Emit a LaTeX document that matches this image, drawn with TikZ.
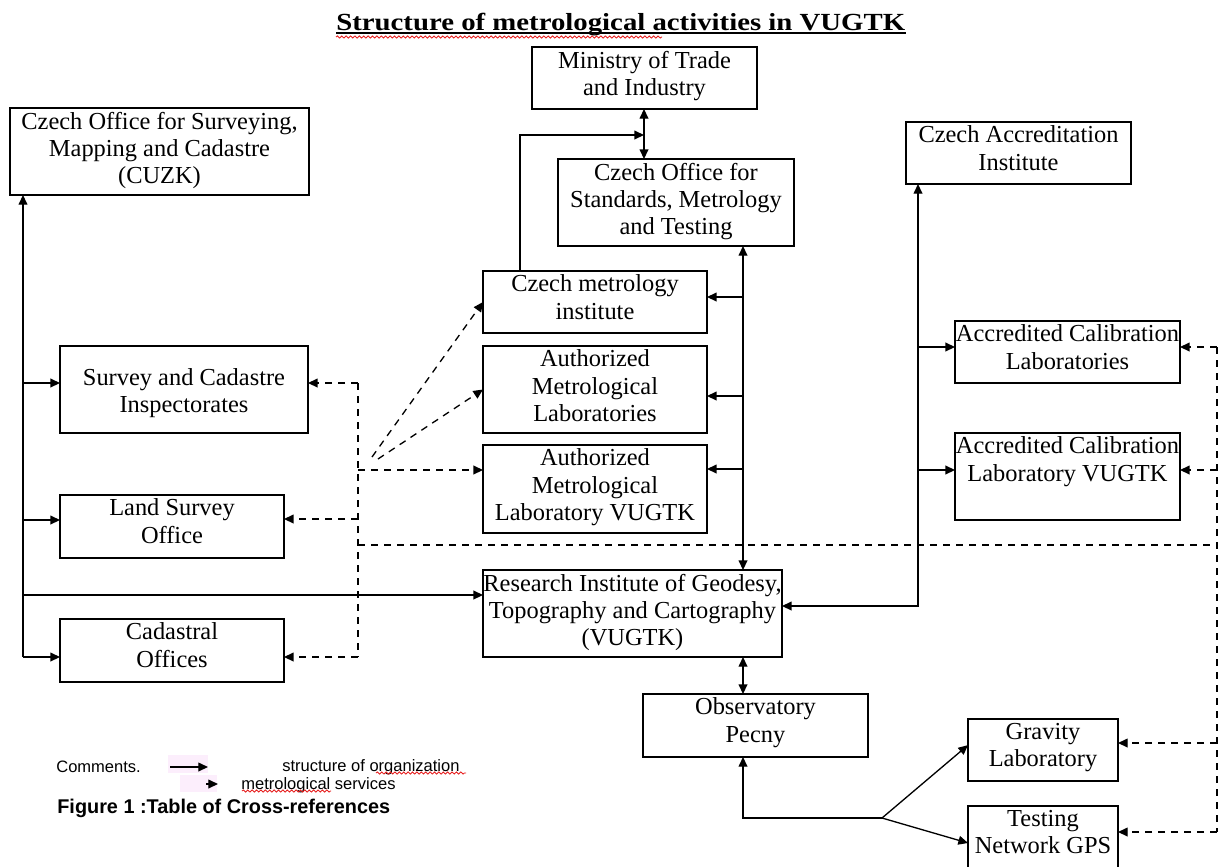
\documentclass[tikz,border=0pt]{standalone}
\usepackage{fontspec}
\usepackage{graphicx}
\setmainfont{Liberation Serif}
\setsansfont{Liberation Sans}
\usetikzlibrary{arrows.meta,decorations.pathmorphing}
\definecolor{pinkbg}{RGB}{252,238,252}
\definecolor{spellred}{RGB}{230,30,30}
\tikzset{
  box/.style={draw, line width=0.9pt, rectangle, inner sep=0pt, outer sep=0pt},
  txt/.style={font=\fontsize{13.9}{15.5}\selectfont, align=center, inner sep=2pt},
  arr/.style={line width=0.75pt, -{Triangle[length=5.5pt,width=5pt]}},
  arrtwo/.style={line width=0.75pt, {Triangle[length=5.5pt,width=5pt]}-{Triangle[length=5.5pt,width=5pt]}},
  dsh/.style={line width=0.75pt, dash pattern=on 4pt off 3.4pt},
  darr/.style={arr, dash pattern=on 4pt off 3.4pt},
  legtxt/.style={font=\sffamily\fontsize{9.4}{11}\selectfont, inner sep=0pt},
  wavy/.style={spellred, line width=0.5pt, decorate, decoration={snake, amplitude=0.6pt, segment length=2.5pt}}
}
\newcommand\mkbox[6]{%
  \node[box, minimum width={(#4-#2)*0.569055pt}, minimum height={(#5-#3)*0.569055pt}] (#1) at ({(#2+#4)/2},{(#3+#5)/2}) {};
  \node[txt, anchor=north] (#1-t) at (#1.north) {#6};
}
\begin{document}
\begin{tikzpicture}[x=0.02cm, y=-0.02cm]
\useasboundingbox (0,0) rectangle (1227,866);
% title
\node[inner sep=0pt, anchor=base west, font=\bfseries\fontsize{14}{16}\selectfont] (title) at (336,30) {\scalebox{1.17}[1]{Structure of metrological activities in VUGTK}};
\draw[line width=0.8pt] ([yshift=-1.6pt]title.base west) -- ([yshift=-1.6pt]title.base east);
\coordinate (tw1) at (336,37);
\coordinate (tw2) at (662,37);
\draw[wavy] (tw1) -- (tw2);

% boxes
\mkbox{ministry}{532}{47}{757}{109}{Ministry of Trade\\and Industry}
\mkbox{cosmt}{558}{159}{794}{246}{Czech Office for\\Standards, Metrology\\and Testing}
\mkbox{cuzk}{10}{108}{309}{195}{Czech Office for Surveying,\\Mapping and Cadastre\\(CUZK)}
\mkbox{cai}{906}{122}{1131}{184}{Czech Accreditation\\Institute}
\mkbox{cmi}{483}{271}{707}{333}{Czech metrology\\institute}
\mkbox{aml}{483}{346}{707}{433}{Authorized\\Metrological\\Laboratories}
\mkbox{amlv}{483}{445}{707}{533}{Authorized\\Metrological\\Laboratory VUGTK}
\node[box, minimum width={248*0.569055pt}, minimum height={87*0.569055pt}] (sci) at (184,389.5) {};
\node[txt] (sci-t) at ([yshift=-2pt]sci.center) {Survey and Cadastre\\Inspectorates};
\mkbox{lso}{60}{495}{284}{558}{Land Survey\\Office}
\mkbox{co}{60}{619}{284}{682}{Cadastral\\Offices}
\mkbox{acl}{955}{321}{1180}{383}{Accredited Calibration\\Laboratories}
\mkbox{aclv}{955}{433}{1180}{520}{Accredited Calibration\\Laboratory VUGTK}
\mkbox{ri}{483}{570}{782}{657}{Research Institute of Geodesy,\\Topography and Cartography\\(VUGTK)}
\mkbox{op}{643}{694}{868}{757}{Observatory\\Pecny}
\mkbox{gl}{968}{719}{1118}{781}{Gravity\\Laboratory}
\mkbox{tn}{968}{806}{1118}{880}{Testing\\Network GPS}

% ministry / standards office
\coordinate (xm) at (644,135);
\coordinate (cmix) at (520,135);
\draw[arrtwo] (ministry.south -| xm) -- (cosmt.north -| xm);
\draw[arr] (cmi.north -| cmix) -- (cmix) -- (xm);

% central spine
\coordinate (s1) at (743,297);
\coordinate (s2) at (743,396);
\coordinate (s3) at (743,469);
\draw[arrtwo] (cosmt.south -| s1) -- (ri.north -| s1);
\draw[arr] (s1) -- (s1 -| cmi.east);
\draw[arr] (s2) -- (s2 -| aml.east);
\draw[arr] (s3) -- (s3 -| amlv.east);
\draw[arrtwo] (ri.south -| s1) -- (op.north -| s1);

% observatory fork
\coordinate (fork) at (882,818);
\draw[arr] (fork) -| (op.south -| s1);
\draw[arr] (fork) -- ([yshift=2.8pt]gl.west);
\draw[arr] (fork) -- (tn.west);

% CUZK bus
\coordinate (c1) at (23,383);
\coordinate (c2) at (23,520);
\coordinate (c3) at (23,595);
\coordinate (c4) at (23,657);
\draw[arr] (c4) -- (cuzk.south -| c4);
\draw[arr] (c1) -- (c1 -| sci.west);
\draw[arr] (c2) -- (c2 -| lso.west);
\draw[arr] (c3) -- (c3 -| ri.west);
\draw[arr] (c4) -- (c4 -| co.west);

% accreditation bus
\coordinate (a1) at (918,347);
\coordinate (a2) at (918,470);
\coordinate (a3) at (918,606);
\draw[arrtwo] (cai.south -| a1) -- (a3) -- (a3 -| ri.east);
\draw[arr] (a1) -- (a1 -| acl.west);
\draw[arr] (a2) -- (a2 -| aclv.west);

% dashed right bus
\coordinate (d1) at (1217,347);
\coordinate (d2) at (1217,470);
\coordinate (d0) at (1217,545);
\coordinate (d3) at (1217,743);
\coordinate (d4) at (1217,832);
\draw[dsh] (d1) -- (d4);
\draw[darr] (d1) -- (d1 -| acl.east);
\draw[darr] (d2) -- (d2 -| aclv.east);
\draw[darr] (d3) -- (d3 -| gl.east);
\draw[darr] (d4) -- (d4 -| tn.east);

% dashed left bus
\coordinate (e1) at (358,383);
\coordinate (e3) at (358,470);
\coordinate (e2) at (358,519);
\coordinate (e0) at (358,545);
\coordinate (e4) at (358,657);
\draw[dsh] (e1) -- (e4);
\draw[darr] (e1) -- (e1 -| sci.east);
\draw[darr] (e2) -- (e2 -| lso.east);
\draw[darr] (e4) -- (e4 -| co.east);
\draw[darr] (e3) -- (e3 -| amlv.west);
\draw[dsh] (e0) -- (d0);
\coordinate (g1) at (372,457);
\coordinate (g2) at (378,459);
\draw[darr] (g1) -- (cmi.west);
\draw[darr] (g2) -- (aml.west);

% legend
\coordinate (p1) at (168,755);
\coordinate (p2) at (208,773);
\coordinate (p3) at (180,775);
\coordinate (p4) at (217,792);
\fill[pinkbg] (p1) rectangle (p2);
\fill[pinkbg] (p3) rectangle (p4);
\coordinate (l1a) at (170,767);
\coordinate (l1b) at (208,767);
\coordinate (l2a) at (206,784);
\coordinate (l2b) at (218,784);
\draw[arr] (l1a) -- (l1b);
\draw[arr] (l2a) -- (l2b);
\node[legtxt, anchor=west] (leg1) at (56,767) {Comments.};
\node[legtxt, anchor=west] (leg2) at (282,767) {structure of organization};
\node[legtxt, anchor=west] (leg3) at (241,785) {metrological services};
\node[anchor=west, font=\sffamily\bfseries\fontsize{11.3}{13}\selectfont, inner sep=0pt] (fig) at (57,808) {Figure 1 :Table of Cross-references};
\coordinate (w1) at (376,773);
\coordinate (w2) at (466,773);
\coordinate (w3) at (242,791);
\coordinate (w4) at (331,791);
\draw[wavy] (w1) -- (w2);
\draw[wavy] (w3) -- (w4);
\end{tikzpicture}
\end{document}
